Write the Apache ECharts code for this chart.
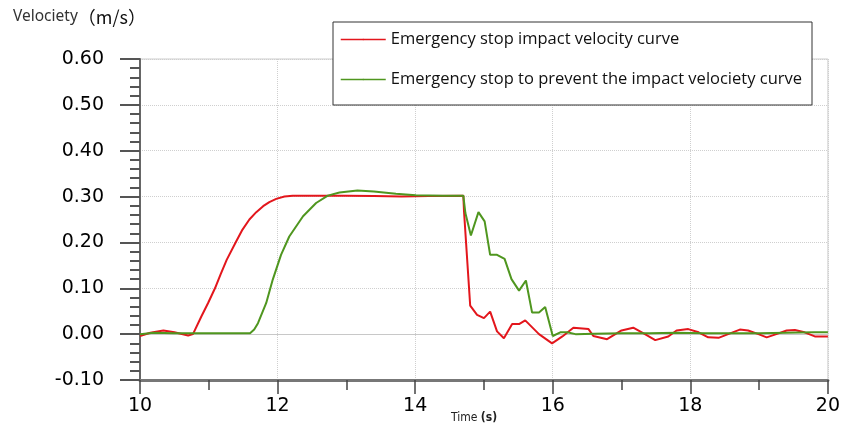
<!DOCTYPE html>
<html>
<head>
<meta charset="utf-8">
<script src="https://cdn.jsdelivr.net/npm/echarts@6/dist/echarts.min.js"></script>
<style>html,body{margin:0;padding:0;background:#fff}#c{width:843px;height:423px}</style>
</head>
<body>
<div id="c"></div>
<script>
// Series names and colours
const seriesNames = ['Emergency stop impact velocity curve', 'Emergency stop to prevent the impact velociety curve'];
const seriesColors = ['#e3161c', '#4f961f'];
// Axis ticks
const yTicks = [-0.10, 0.00, 0.10, 0.20, 0.30, 0.40, 0.50, 0.60];
const xTicks = [10, 12, 14, 16, 18, 20];
// Red curve (time s, velocity m/s)
const redT = [10.0, 10.15, 10.34, 10.5, 10.70, 10.77, 10.89, 10.99, 11.09, 11.17, 11.26, 11.39, 11.49, 11.59, 11.69, 11.79, 11.88, 11.98, 12.1, 12.22, 12.6, 13.0, 13.4, 13.8, 14.2, 14.70, 14.71, 14.80, 14.90, 15.00, 15.09, 15.19, 15.29, 15.41, 15.51, 15.60, 15.80, 15.99, 16.14, 16.30, 16.52, 16.59, 16.79, 17.00, 17.17, 17.34, 17.49, 17.68, 17.80, 17.97, 18.12, 18.26, 18.41, 18.55, 18.72, 18.84, 18.99, 19.11, 19.25, 19.40, 19.52, 19.66, 19.81, 20.0];
const redV = [-0.004, 0.003, 0.008, 0.004, -0.003, 0.0, 0.038, 0.068, 0.100, 0.130, 0.162, 0.200, 0.228, 0.250, 0.266, 0.279, 0.288, 0.295, 0.300, 0.302, 0.302, 0.302, 0.301, 0.300, 0.301, 0.302, 0.268, 0.062, 0.042, 0.035, 0.049, 0.006, -0.009, 0.022, 0.022, 0.030, 0.000, -0.020, -0.005, 0.014, 0.011, -0.004, -0.011, 0.008, 0.014, 0.000, -0.013, -0.005, 0.008, 0.011, 0.004, -0.007, -0.008, 0.000, 0.010, 0.008, 0.000, -0.007, 0.000, 0.008, 0.009, 0.004, -0.005, -0.005];
// Green curve (time s, velocity m/s)
const greenT = [10.0, 10.2, 10.5, 11.0, 11.3, 11.60, 11.66, 11.715, 11.835, 11.93, 12.05, 12.17, 12.37, 12.56, 12.73, 12.9, 13.16, 13.4, 13.72, 14.01, 14.4, 14.70, 14.73, 14.81, 14.92, 15.01, 15.09, 15.19, 15.30, 15.40, 15.51, 15.61, 15.70, 15.80, 15.89, 16.00, 16.11, 16.21, 16.33, 16.6, 17.0, 17.4, 17.8, 18.2, 18.6, 19.0, 19.4, 19.8, 20.0];
const greenV = [0.000, 0.003, 0.002, 0.002, 0.002, 0.002, 0.010, 0.024, 0.068, 0.119, 0.173, 0.213, 0.257, 0.286, 0.302, 0.309, 0.313, 0.311, 0.306, 0.303, 0.302, 0.302, 0.264, 0.215, 0.266, 0.246, 0.173, 0.173, 0.164, 0.120, 0.095, 0.117, 0.047, 0.047, 0.059, -0.004, 0.004, 0.004, 0.000, 0.001, 0.002, 0.002, 0.003, 0.002, 0.002, 0.002, 0.003, 0.004, 0.004];

const zip = (t, v) => t.map((x, i) => [x, v[i]]);
const chart = echarts.init(document.getElementById('c'), null, {renderer: 'canvas'});
const lblFont = 'DejaVu Sans, Verdana, sans-serif';
chart.setOption({
  animation: false,
  backgroundColor: '#fff',
  grid: {left: 140, right: 13, top: 59, bottom: 43, show: true, borderColor: '#cccccc', borderWidth: 1, backgroundColor: 'transparent'},
  legend: {
    orient: 'vertical', left: 333, top: 22, padding: [9, 10, 17, 7], itemGap: 23,
    itemWidth: 45, itemHeight: 2, backgroundColor: '#fff', borderColor: '#333', borderWidth: 1,
    textStyle: {fontSize: 16.5, lineHeight: 14, fontFamily: 'Open Sans, sans-serif', color: '#111'},
    lineStyle: {width: 1.5},
    data: seriesNames
  },
  xAxis: {
    type: 'value', min: xTicks[0], max: xTicks[xTicks.length - 1], interval: 2,
    axisLine: {show: true, onZero: false, lineStyle: {color: '#777', width: 3}},
    axisTick: {show: true, length: 14, lineStyle: {color: '#444', width: 1.5}},
    minorTick: {show: true, splitNumber: 2, length: 10, lineStyle: {color: '#444', width: 1.5}},
    axisLabel: {fontSize: 19, color: '#000', fontFamily: lblFont, margin: 17, formatter: v => String(v)},
    splitLine: {show: true, lineStyle: {type: 'dotted', color: '#cfcfcf', width: 1}}
  },
  yAxis: {
    type: 'value', min: yTicks[0], max: yTicks[yTicks.length - 1], interval: 0.1,
    axisLine: {show: true, onZero: false, lineStyle: {color: '#666', width: 2}},
    axisTick: {show: true, length: 20, lineStyle: {color: '#555', width: 2}},
    minorTick: {show: true, splitNumber: 5, length: 10, lineStyle: {color: '#555', width: 2}},
    axisLabel: {fontSize: 19, color: '#000', fontFamily: lblFont, margin: 36, formatter: v => (Math.abs(v) < 1e-9 ? 0 : v).toFixed(2)},
    splitLine: {show: true, lineStyle: {type: 'dotted', color: '#cfcfcf', width: 1}}
  },
  graphic: [
    {type: 'text', left: 13, top: 8, style: {
      text: '{a|Velociety}{b|（m/s）}',
      rich: {
        a: {fontSize: 15.5, fontFamily: 'Noto Sans, sans-serif', fill: '#333', verticalAlign: 'bottom', padding: [0, 0, 1, 0]},
        b: {fontSize: 18, fontFamily: 'Noto Sans CJK SC, Noto Sans, sans-serif', fill: '#111', verticalAlign: 'bottom'}
      }
    }},
    {type: 'text', left: 451, top: 412, style: {
      text: '{a|Time }{b|(s)}',
      rich: {
        a: {fontSize: 12, fontFamily: 'DejaVu Sans Condensed, Liberation Sans Narrow, sans-serif', fill: '#222'},
        b: {fontSize: 12, fontWeight: 'bold', fontFamily: 'DejaVu Sans Condensed, Liberation Sans Narrow, sans-serif', fill: '#222'}
      }
    }}
  ],
  series: [
    {
      name: seriesNames[0], type: 'line', data: zip(redT, redV), symbol: 'none', showSymbol: false,
      color: seriesColors[0],
      lineStyle: {color: seriesColors[0], width: 2}, itemStyle: {color: seriesColors[0]}, z: 3,
      markLine: {silent: true, symbol: 'none', label: {show: false},
        lineStyle: {type: 'solid', color: '#c8c8c8', width: 1}, data: [{yAxis: 0}], z: 1}
    },
    {
      name: seriesNames[1], type: 'line', data: zip(greenT, greenV), symbol: 'none', showSymbol: false,
      color: seriesColors[1],
      lineStyle: {color: seriesColors[1], width: 2}, itemStyle: {color: seriesColors[1]}, z: 4
    }
  ]
});
</script>
</body>
</html>
